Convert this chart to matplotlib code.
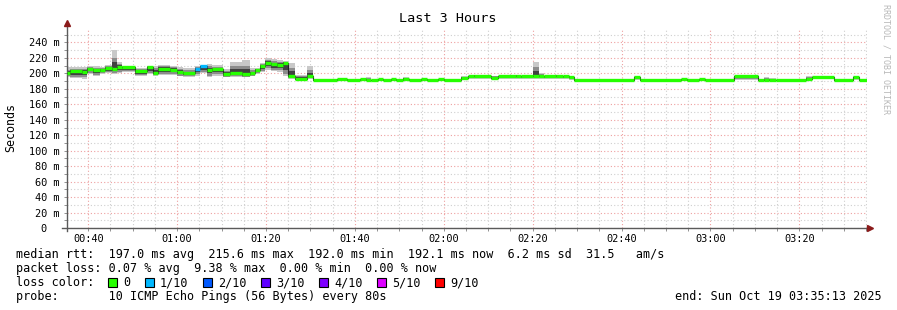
import matplotlib
matplotlib.use('Agg')
import matplotlib.pyplot as plt
import matplotlib.dates as mdates
from matplotlib.ticker import MultipleLocator, FuncFormatter
from matplotlib.patches import Rectangle
from datetime import datetime, timedelta

plt.rcParams['font.family'] = 'DejaVu Sans Mono'

# smokeping data
start = datetime(2025, 10, 19, 0, 35, 13)
# end of each step, minutes after start
seg_end = [0.68, 3.38, 4.51, 5.86, 7.44, 8.56, 10.14, 11.27, 12.39, 15.32,
           18.03, 19.38, 20.51, 23.21, 24.79, 26.14, 28.85, 29.97, 31.55, 32.68,
           35.16, 36.73, 39.44, 41.24, 42.37, 43.49, 44.62, 45.97, 47.32, 48.68,
           49.80, 51.38, 54.08, 55.44, 60.85, 63.10, 66.03, 67.38, 68.51, 70.08,
           71.21, 72.79, 73.92, 75.49, 76.85, 79.55, 80.90, 83.38, 84.73, 88.56,
           90.14, 91.49, 95.32, 96.90, 100.96, 102.08, 104.79, 106.14, 107.27, 109.97,
           111.55, 112.90, 114.03, 127.55, 128.90, 138.14, 139.49, 142.20, 143.55, 150.08,
           155.49, 156.85, 157.97, 159.55, 166.31, 167.66, 172.62, 176.90, 178.25, 180.0]
median = [200, 203, 202, 206, 204, 205, 207, 206, 208, 208,
          203, 208, 201, 206, 205, 202, 200, 206, 209, 205,
          205.5, 199, 201, 199, 200, 204, 209, 214, 212, 211,
          214, 197, 193, 196, 192, 193, 192, 193, 192, 192,
          193, 192, 193, 192, 193, 192, 193, 192, 193, 192,
          194.5, 196, 197, 194.5, 196, 197, 196, 197, 197, 196,
          197, 196, 195, 192, 195, 192, 193, 192, 193, 192,
          196, 192, 192, 192, 192, 193, 195, 192, 195, 192]
smoke_lo = [195, 194, 193, 199, 196, 199, 200, 199, 201, 202,
            196, 199, 197, 198, 198, 196, 195, 197, 200, 195,
            197, 195, 195, 195, 196, 199, 202, 205, 203, 202,
            196, 193, 192, 193, 192, 193, 192, 193, 192, 192,
            193, 192, 193, 192, 192, 192, 193, 192, 193, 192,
            191, 193, 193, 192, 193, 193, 193, 193, 193, 193,
            193, 193, 192, 192, 192, 192, 193, 192, 193, 192,
            192, 192, 192, 192, 192, 192, 193, 192, 192, 192]
smoke_hi = [208, 208, 208, 209, 209, 208, 211, 230, 215, 210,
            207, 210, 210, 211, 210, 208, 207, 209, 211, 212,
            211, 206, 215, 217, 207, 207, 214, 220, 218, 217,
            216, 213, 198, 209, 192, 193, 192, 193, 195, 192,
            193, 192, 193, 192, 195, 192, 193, 192, 193, 192,
            196, 197, 198, 197, 197, 198, 197, 215, 200, 197,
            198, 197, 197, 192, 196, 192, 193, 192, 193, 192,
            196.5, 192, 195, 194, 192, 196, 196, 192, 196, 192]
loss = [0] * 17 + [1, 1] + [0] * 61

loss_colors = {0: '#26ff00', 1: '#00b8ff', 2: '#0059ff', 3: '#5e00ff',
               4: '#7e00ff', 5: '#dd00ff', 9: '#ff0000'}
loss_labels = ['0', '1/10', '2/10', '3/10', '4/10', '5/10', '9/10']
loss_keys = [0, 1, 2, 3, 4, 5, 9]

W, H = 897, 310
fig = plt.figure(figsize=(W / 100, H / 100), dpi=100)
fig.patch.set_facecolor('white')
ymax = 258
ax = fig.add_axes([67 / W, (H - 228) / H, 800 / W, ymax * 0.773 / H])

t = [start + timedelta(minutes=m) for m in [0] + seg_end]
tn = mdates.date2num(t)

for i in range(len(median)):
    x0, x1 = tn[i], tn[i + 1]
    m, lo, hi = median[i], smoke_lo[i], smoke_hi[i]
    if hi > lo:
        ax.fill_between([x0, x1], lo, hi, color='#c8c8c8', lw=0, zorder=2)
        ax.fill_between([x0, x1], m - (m - lo) * 0.8, m + (hi - m) * 0.6,
                        color='#8c8c8c', lw=0, zorder=2)
        ax.fill_between([x0, x1], m - (m - lo) * 0.5, m + (hi - m) * 0.35,
                        color='#404040', lw=0, zorder=2)

ax.step(tn, median + [median[-1]], where='post', color='#202020', lw=0.8, zorder=3)
ax.hlines(median, tn[:-1], tn[1:], colors=[loss_colors[l] for l in loss],
          lw=2.4, zorder=4)

ax.set_xlim(tn[0], tn[-1])
ax.set_ylim(0, ymax)

ax.xaxis.set_major_locator(mdates.MinuteLocator(byminute=[0, 20, 40]))
ax.xaxis.set_minor_locator(mdates.MinuteLocator(byminute=range(0, 60, 5)))
ax.xaxis.set_major_formatter(mdates.DateFormatter('%H:%M'))
ax.yaxis.set_major_locator(MultipleLocator(20))
ax.yaxis.set_minor_locator(MultipleLocator(10))
ax.yaxis.set_major_formatter(FuncFormatter(lambda v, p: '%d m' % v if v else '0  '))

ax.set_axisbelow(True)
ax.grid(which='minor', color='#cfcfcf', linestyle=(0, (1, 2)), lw=0.8)
ax.grid(which='major', color='#eea0a0', linestyle=(0, (1, 2)), lw=0.8)

for s in ax.spines.values():
    s.set_visible(False)
ax.tick_params(which='both', length=2.5, width=0.6, color='#808080',
               labelsize=7.4, pad=3)
ax.tick_params(axis='x', pad=1.5)

ax.plot([0, 0], [-0.015, 1.025], color='#5a5a5a', lw=1, transform=ax.transAxes, clip_on=False)
ax.plot([-0.006, 1.0], [0, 0], color='#5a5a5a', lw=1, transform=ax.transAxes, clip_on=False)
ax.plot([0], [1.03], marker='^', ms=4, color='#8b1a1a', transform=ax.transAxes, clip_on=False)
ax.plot([1.004], [0], marker='>', ms=4, color='#8b1a1a', transform=ax.transAxes, clip_on=False)

fig.text(448 / W, 1 - 19 / H, 'Last 3 Hours', ha='center', va='center', fontsize=9.7)
fig.text(11 / W, 1 - 127 / H, 'Seconds', rotation=90, ha='center', va='center', fontsize=8.4)
fig.text(886 / W, 1 - 4 / H, 'RRDTOOL / TOBI OETIKER', rotation=-90, ha='center',
         va='top', fontsize=6, color='#b8b8b8')

fs = 8.5
def px(x, y):
    return x / W, 1 - y / H

fig.text(*px(16, 258), 'median rtt:  197.0 ms avg  215.6 ms max  192.0 ms min  '
         '192.1 ms now  6.2 ms sd  31.5   am/s', fontsize=fs, va='baseline')
fig.text(*px(16, 272), 'packet loss: 0.07 % avg  9.38 % max  0.00 % min  0.00 % now',
         fontsize=fs, va='baseline')
fig.text(*px(16, 286), 'loss color:', fontsize=fs, va='baseline')
sq_x = [108, 145, 203, 261, 319, 377, 435]
for k, lab, sx in zip(loss_keys, loss_labels, sq_x):
    fig.patches.append(Rectangle(px(sx, 287), 9 / W, 9 / H, transform=fig.transFigure,
                                 facecolor=loss_colors[k], edgecolor='black', lw=0.8))
    fig.text(*px(sx + 15, 286), lab, fontsize=fs, va='baseline')
fig.text(*px(16, 300), 'probe:       10 ICMP Echo Pings (56 Bytes) every 80s',
         fontsize=fs, va='baseline')
fig.text(*px(882, 300), 'end: Sun Oct 19 03:35:13 2025', fontsize=fs,
         va='baseline', ha='right')

fig.savefig('out.png', dpi=100)
